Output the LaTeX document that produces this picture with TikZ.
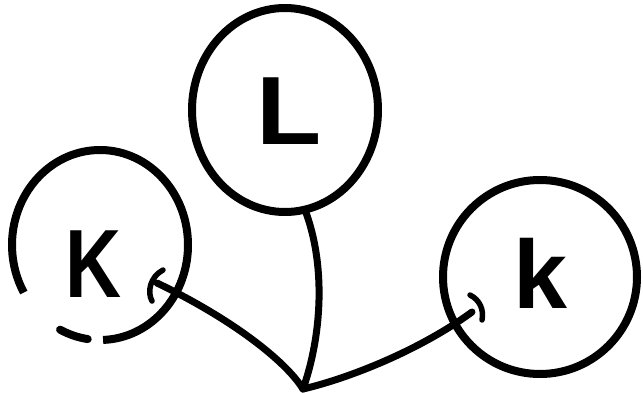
\documentclass[tikz,border=0pt]{standalone}
\usepackage{fontspec}
\setmainfont{Liberation Sans}
\begin{document}
\begin{tikzpicture}[x=1pt,y=1pt,
  ring/.style={line width=8pt},
  wire/.style={line width=7pt,line cap=round},
  hook/.style={line width=5.5pt,line cap=round},
  letter/.style={inner sep=0pt,font=\fontsize{97}{97}\selectfont\bfseries}]
\useasboundingbox (0,0) rectangle (643,-393);
% letters
\node[letter] (Kt) at (94,-264) {\scalebox{0.8}[1]{K}};
\node[letter] (Lt) at (289,-111) {\scalebox{1.1}[1]{L}};
\node[letter] (kt) at (540,-273) {k};
% circles
\draw[ring] (285,-110) ellipse[x radius=93,y radius=102];
\draw[ring] (540,-277) circle[radius=97];
\draw[ring] (100,-245) ++(-88:88 and 95) arc[start angle=-88,end angle=210,x radius=88,y radius=95];
\draw[ring,line cap=round] (100,-245) ++(243:88 and 95) arc[start angle=243,end angle=262,x radius=88,y radius=95];
% connector points
\coordinate (J) at (303,-389);
\coordinate (Kend) at (157,-283);
\coordinate (Lend) at (305,-210);
\coordinate (kend) at (472,-312);
\draw[wire] (J) .. controls (285,-360) and (230,-318) .. (Kend);
\draw[wire] (Lend) .. controls (326,-265) and (322,-335) .. (J);
\draw[wire] (J) .. controls (350,-378) and (420,-350) .. (kend);
% hooks
\draw[hook] (163,-270) .. controls (150,-277) and (147,-292) .. (152,-301);
\draw[hook] (470,-295) .. controls (480,-300) and (484,-310) .. (482,-320);
\end{tikzpicture}
\end{document}
